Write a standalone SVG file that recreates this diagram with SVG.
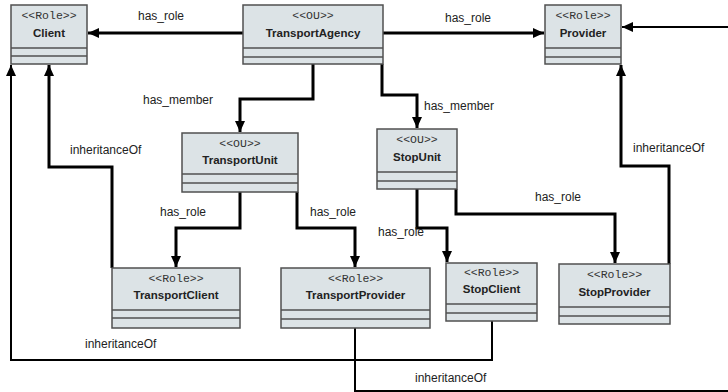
<svg xmlns="http://www.w3.org/2000/svg" width="728" height="392" viewBox="0 0 728 392">
<style>
.box{fill:#dce3e6;stroke:#505050;stroke-width:1.5}
.sep{stroke:#505050;stroke-width:1.5}
.st{font-family:"Liberation Mono",monospace;font-size:11.5px;fill:#333;text-anchor:middle}
.nm{font-family:"Liberation Sans",Arial,sans-serif;font-size:11.5px;font-weight:bold;fill:#222;text-anchor:middle}
.lb{font-family:"Liberation Sans",Arial,sans-serif;font-size:12px;fill:#222}
.c{fill:none;stroke:#000;stroke-width:3;marker-end:url(#ah)}
.t{fill:none;stroke:#000;stroke-width:2;marker-end:url(#ah)}
</style>
<defs>
<marker id="ah" markerUnits="userSpaceOnUse" markerWidth="11" markerHeight="10" refX="11" refY="5" orient="auto">
<path d="M0,0 L11,5 L0,10 z" fill="#000"/>
</marker>
</defs>
<rect width="728" height="392" fill="#fff"/>
<g id="connectors">
<path class="c" d="M243,33 H88"/>
<path class="c" d="M383,33 H544"/>
<path class="c" d="M313,64 V99 H240 V132"/>
<path class="c" d="M382,64 V95 H417 V128"/>
<path class="c" d="M240,192 V228 H176 V267"/>
<path class="c" d="M297,192 V228 H355 V267"/>
<path class="c" d="M417,189 V228 H447 V262"/>
<path class="c" d="M456,189 V214 H615 V263"/>
<path class="c" d="M112,268 V167 H49 V65"/>
<path class="t" d="M492,321 V360 H11 V65"/>
<path class="c" d="M669,264 V166 H621 V65"/>
<path class="t" d="M355,328 V391 H732 V27 H622"/>
</g>
<g id="labels">
<text class="lb" x="138" y="20">has_role</text>
<text class="lb" x="445" y="22">has_role</text>
<text class="lb" x="143" y="104">has_member</text>
<text class="lb" x="424" y="110">has_member</text>
<text class="lb" x="160" y="216">has_role</text>
<text class="lb" x="310" y="216">has_role</text>
<text class="lb" x="378" y="236">has_role</text>
<text class="lb" x="535" y="201">has_role</text>
<text class="lb" x="70" y="154">inheritanceOf</text>
<text class="lb" x="633" y="152">inheritanceOf</text>
<text class="lb" x="85" y="348">inheritanceOf</text>
<text class="lb" x="415" y="382">inheritanceOf</text>
</g>
<g id="Client">
<rect class="box" x="11" y="5" width="76" height="59"/>
<line class="sep" x1="11" y1="48" x2="87" y2="48"/>
<line class="sep" x1="11" y1="56" x2="87" y2="56"/>
<text class="st" x="49" y="19">&lt;&lt;Role&gt;&gt;</text>
<text class="nm" x="49" y="37">Client</text>
</g>
<g id="TransportAgency">
<rect class="box" x="243" y="5" width="140" height="59"/>
<line class="sep" x1="243" y1="48" x2="383" y2="48"/>
<line class="sep" x1="243" y1="57" x2="383" y2="57"/>
<text class="st" x="313" y="19">&lt;&lt;OU&gt;&gt;</text>
<text class="nm" x="313" y="37">TransportAgency</text>
</g>
<g id="Provider">
<rect class="box" x="545" y="5" width="76" height="59"/>
<line class="sep" x1="545" y1="48" x2="621" y2="48"/>
<line class="sep" x1="545" y1="57" x2="621" y2="57"/>
<text class="st" x="583" y="19">&lt;&lt;Role&gt;&gt;</text>
<text class="nm" x="583" y="37">Provider</text>
</g>
<g id="TransportUnit">
<rect class="box" x="182" y="133" width="116" height="59"/>
<line class="sep" x1="182" y1="174" x2="298" y2="174"/>
<line class="sep" x1="182" y1="183" x2="298" y2="183"/>
<text class="st" x="240" y="147">&lt;&lt;OU&gt;&gt;</text>
<text class="nm" x="240" y="164">TransportUnit</text>
</g>
<g id="StopUnit">
<rect class="box" x="377" y="129" width="80" height="60"/>
<line class="sep" x1="377" y1="172" x2="457" y2="172"/>
<line class="sep" x1="377" y1="181" x2="457" y2="181"/>
<text class="st" x="417" y="143">&lt;&lt;OU&gt;&gt;</text>
<text class="nm" x="417" y="161">StopUnit</text>
</g>
<g id="TransportClient">
<rect class="box" x="112" y="268" width="128" height="60"/>
<line class="sep" x1="112" y1="310" x2="240" y2="310"/>
<line class="sep" x1="112" y1="318" x2="240" y2="318"/>
<text class="st" x="176" y="282">&lt;&lt;Role&gt;&gt;</text>
<text class="nm" x="176" y="299">TransportClient</text>
</g>
<g id="TransportProvider">
<rect class="box" x="281" y="268" width="149" height="60"/>
<line class="sep" x1="281" y1="310" x2="430" y2="310"/>
<line class="sep" x1="281" y1="319" x2="430" y2="319"/>
<text class="st" x="355.5" y="282">&lt;&lt;Role&gt;&gt;</text>
<text class="nm" x="355.5" y="299">TransportProvider</text>
</g>
<g id="StopClient">
<rect class="box" x="446" y="263" width="91" height="58"/>
<line class="sep" x1="446" y1="304" x2="537" y2="304"/>
<line class="sep" x1="446" y1="313" x2="537" y2="313"/>
<text class="st" x="491.5" y="276">&lt;&lt;Role&gt;&gt;</text>
<text class="nm" x="491.5" y="293">StopClient</text>
</g>
<g id="StopProvider">
<rect class="box" x="559" y="264" width="111" height="60"/>
<line class="sep" x1="559" y1="307" x2="670" y2="307"/>
<line class="sep" x1="559" y1="316" x2="670" y2="316"/>
<text class="st" x="614.5" y="278">&lt;&lt;Role&gt;&gt;</text>
<text class="nm" x="614.5" y="296">StopProvider</text>
</g>
</svg>
